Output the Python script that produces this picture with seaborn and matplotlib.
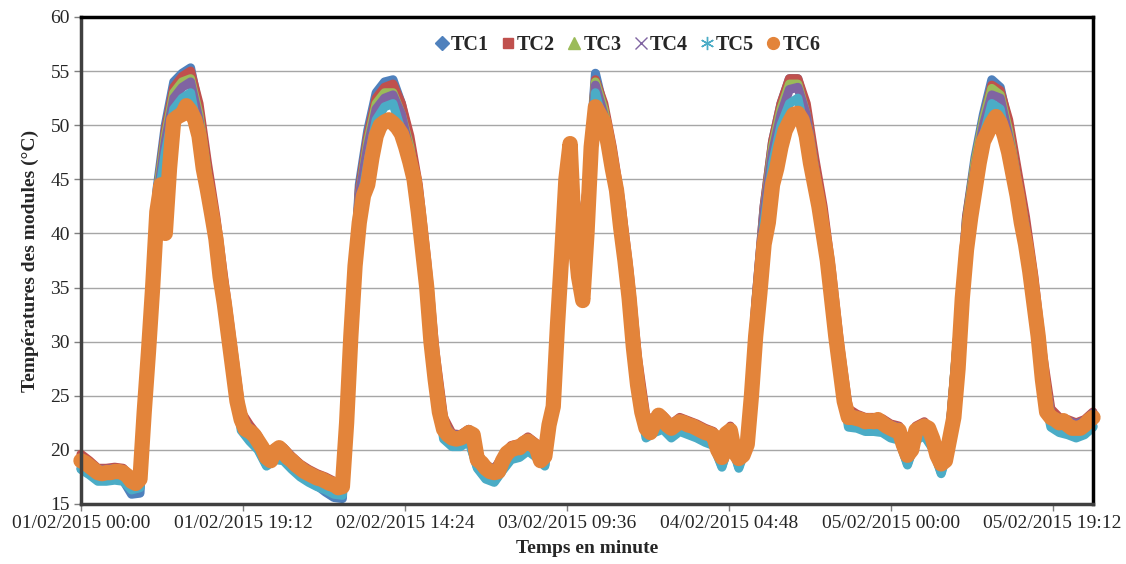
"""
Températures des modules TC1..TC6 du 01/02/2015 au 06/02/2015.
Valeurs relevées sur le graphique d'origine (TC6 toutes les 30 min,
TC1..TC5 toutes les heures).
"""

import pandas as pd
import matplotlib
matplotlib.use("Agg")
import matplotlib.pyplot as plt
import matplotlib.dates as mdates
from matplotlib.lines import Line2D
import seaborn as sns

DEBUT = "2015-02-01 00:00"
FIN = "2015-02-06 00:00"

# TC6, pas de 30 min (de 00:00 le 01/02 à 00:00 le 06/02)
tc6 = [
    # 01/02
    19.0, 18.8, 18.5, 18.2, 17.9, 17.8, 17.9, 17.9, 18.0, 18.0,
    17.9, 17.6, 17.1, 16.9, 17.3, 23.5, 29.0, 35.0, 42.0, 44.5,
    40.0, 46.0, 50.5, 50.8, 51.0, 51.8, 51.3, 50.5, 49.0, 46.0,
    44.0, 41.8, 39.5, 36.0, 33.5, 30.5, 27.5, 24.5, 22.8, 21.9,
    21.7, 21.4, 20.8, 20.2, 19.3, 19.0, 19.9, 20.2,
    # 02/02
    19.8, 19.3, 19.0, 18.6, 18.3, 18.0, 17.8, 17.6, 17.4, 17.3,
    17.1, 16.9, 16.8, 16.5, 16.6, 22.5, 30.5, 37.0, 41.0, 43.5,
    44.5, 47.0, 49.0, 50.0, 50.3, 50.5, 50.2, 49.8, 49.2, 48.0,
    46.6, 45.0, 42.0, 38.5, 35.0, 30.0, 26.5, 23.5, 21.9, 21.4,
    21.1, 21.0, 21.1, 21.3, 21.6, 21.4, 19.1, 18.8,
    # 03/02
    18.3, 18.0, 17.9, 18.0, 19.0, 19.7, 20.0, 20.2, 20.2, 20.6,
    20.8, 20.5, 20.2, 19.0, 19.4, 22.3, 24.0, 31.5, 38.0, 45.0,
    48.3, 40.0, 36.0, 33.8, 40.0, 48.0, 51.7, 51.0, 50.3, 48.3,
    46.0, 44.0, 40.5, 37.5, 34.0, 29.5, 26.0, 23.5, 22.0, 21.6,
    22.5, 23.2, 22.8, 22.3, 22.0, 22.3, 22.6, 22.5,
    # 04/02
    22.3, 22.2, 22.0, 21.8, 21.6, 21.5, 21.3, 20.0, 19.3, 21.5,
    21.8, 19.8, 19.2, 19.5, 20.5, 25.0, 30.5, 34.5, 39.0, 41.0,
    44.5, 46.0, 48.0, 49.5, 50.3, 51.0, 51.1, 50.5, 49.0, 46.5,
    44.5, 42.5, 40.0, 37.5, 34.0, 30.5, 27.5, 24.5, 23.0, 23.0,
    22.9, 22.8, 22.6, 22.7, 22.6, 22.8, 22.5, 22.2,
    # 05/02
    22.0, 21.8, 21.8, 20.5, 19.5, 20.0, 21.8, 22.0, 22.2, 22.0,
    21.0, 19.5, 18.7, 19.0, 21.0, 23.0, 27.5, 34.0, 38.5, 41.5,
    44.0, 46.5, 48.5, 49.3, 50.2, 50.8, 50.2, 49.0, 47.5, 45.5,
    43.5, 41.0, 39.0, 36.5, 33.5, 30.5, 26.5, 23.5, 23.0, 22.8,
    22.5, 22.7, 22.3, 22.0, 22.0, 22.0, 22.3, 22.7, 23.0,
]

# TC1..TC5, pas horaire (une ligne = 12 h)
tc1 = [
    18.3, 17.8, 17.2, 17.2, 17.3, 17.2, 15.9, 16.0, 29.5, 44.0, 50.0, 54.0,
    54.8, 55.3, 51.5, 46.0, 41.0, 35.0, 29.0, 23.0, 21.0, 20.1, 18.6, 19.2,
    19.1, 18.3, 17.6, 17.1, 16.7, 16.1, 15.6, 15.5, 31.0, 44.5, 49.5, 53.0,
    54.0, 54.2, 52.0, 48.5, 44.0, 37.0, 28.5, 22.5, 20.4, 20.4, 20.9, 18.4,
    17.4, 17.1, 18.2, 19.2, 19.4, 20.0, 19.4, 18.6, 24.5, 41.0, 46.0, 38.5,
    44.0, 54.8, 51.5, 47.5, 42.5, 36.0, 28.0, 22.5, 21.7, 22.0, 21.2, 21.8,
    21.5, 21.2, 20.8, 20.5, 18.5, 21.0, 18.4, 21.0, 33.5, 42.5, 48.5, 52.0,
    54.3, 54.3, 51.5, 46.5, 42.0, 36.0, 29.0, 22.8, 22.1, 21.8, 21.8, 21.7,
    21.2, 21.0, 18.7, 21.0, 21.4, 20.2, 17.9, 21.5, 31.0, 41.5, 47.0, 51.0,
    54.2, 53.5, 50.0, 45.5, 41.0, 35.5, 28.5, 22.5, 21.7, 21.5, 21.2, 21.5,
    22.2,
]
tc2 = [
    19.6, 19.0, 18.3, 18.3, 18.4, 18.3, 17.5, 17.6, 29.5, 43.5, 49.5, 53.5,
    54.5, 55.0, 52.0, 46.5, 41.5, 35.5, 29.5, 23.5, 22.3, 21.3, 19.7, 20.2,
    20.2, 19.4, 18.7, 18.2, 17.8, 17.5, 17.1, 16.9, 31.0, 44.0, 49.0, 52.5,
    53.5, 53.8, 52.0, 49.0, 44.5, 37.5, 29.0, 23.0, 21.5, 21.4, 21.9, 19.4,
    18.6, 18.2, 19.4, 20.4, 20.6, 21.2, 20.6, 19.8, 25.0, 41.0, 46.5, 38.5,
    44.0, 54.2, 52.0, 48.0, 43.0, 36.5, 28.5, 23.0, 22.9, 23.2, 22.4, 23.0,
    22.7, 22.4, 22.0, 21.7, 19.7, 22.2, 19.6, 21.0, 33.5, 42.5, 48.5, 52.0,
    54.3, 54.3, 52.0, 47.0, 42.5, 36.5, 29.5, 23.8, 23.3, 23.0, 23.0, 22.9,
    22.4, 22.2, 19.9, 22.2, 22.6, 21.4, 19.1, 21.5, 31.0, 41.5, 46.5, 50.5,
    53.7, 53.2, 50.5, 46.0, 41.5, 36.0, 29.0, 23.8, 23.0, 22.8, 22.5, 22.8,
    23.5,
]
tc3 = [
    19.2, 18.7, 18.1, 18.1, 18.2, 18.1, 17.3, 17.5, 29.5, 43.5, 49.0, 53.0,
    54.0, 54.3, 51.0, 45.5, 40.5, 34.5, 28.5, 23.3, 21.9, 21.0, 19.5, 20.1,
    20.1, 19.2, 18.5, 18.0, 17.6, 17.3, 16.9, 16.8, 31.0, 43.5, 48.5, 52.0,
    53.0, 53.0, 51.0, 48.0, 43.5, 36.5, 28.0, 22.6, 21.3, 21.3, 21.8, 19.3,
    18.5, 18.1, 19.2, 20.2, 20.4, 21.0, 20.4, 19.6, 25.0, 40.5, 46.0, 38.5,
    43.5, 54.0, 51.5, 47.5, 42.0, 35.5, 27.5, 22.5, 22.7, 23.0, 22.2, 22.8,
    22.5, 22.2, 21.8, 21.5, 19.5, 22.0, 19.4, 21.0, 33.0, 42.0, 48.0, 51.5,
    53.8, 53.8, 51.0, 46.0, 41.5, 35.5, 29.0, 23.3, 23.1, 22.8, 22.8, 22.7,
    22.2, 22.0, 19.7, 22.0, 22.4, 21.2, 18.9, 21.5, 31.0, 41.0, 46.5, 50.5,
    53.4, 52.8, 49.5, 45.0, 40.5, 35.0, 28.0, 23.2, 22.8, 22.6, 22.3, 22.6,
    23.3,
]
tc4 = [
    19.3, 18.8, 18.2, 18.2, 18.3, 18.2, 17.4, 17.6, 29.5, 43.0, 48.5, 52.5,
    53.5, 54.0, 50.5, 45.0, 40.5, 34.5, 28.5, 23.2, 22.0, 21.1, 19.6, 20.2,
    20.2, 19.3, 18.6, 18.1, 17.7, 17.4, 17.0, 16.9, 31.0, 43.5, 48.0, 51.5,
    52.5, 52.8, 51.0, 47.5, 43.0, 36.0, 27.5, 22.5, 21.4, 21.4, 21.9, 19.4,
    18.6, 18.2, 19.3, 20.3, 20.5, 21.1, 20.5, 19.7, 25.0, 40.5, 45.5, 38.0,
    43.0, 53.7, 51.0, 47.0, 42.0, 35.5, 27.5, 22.6, 22.8, 23.1, 22.3, 22.9,
    22.6, 22.3, 21.9, 21.6, 19.6, 22.1, 19.5, 21.0, 33.0, 42.0, 47.5, 51.0,
    53.3, 53.5, 51.0, 46.0, 41.5, 35.5, 28.5, 23.4, 23.2, 22.9, 22.9, 22.8,
    22.3, 22.1, 19.8, 22.1, 22.5, 21.3, 19.0, 21.5, 30.5, 40.5, 46.0, 50.0,
    52.8, 52.5, 49.0, 45.0, 40.5, 34.5, 28.0, 23.3, 22.9, 22.7, 22.4, 22.7,
    23.4,
]
tc5 = [
    18.2, 17.7, 17.1, 17.1, 17.2, 17.1, 16.3, 16.5, 29.0, 42.5, 47.5, 51.5,
    52.5, 53.0, 49.0, 44.0, 39.0, 33.0, 27.0, 21.8, 20.8, 20.0, 18.5, 19.1,
    19.0, 18.2, 17.5, 17.0, 16.6, 16.3, 15.9, 15.8, 30.5, 42.0, 46.5, 50.5,
    51.7, 52.0, 49.5, 46.0, 41.5, 34.5, 26.0, 21.0, 20.3, 20.3, 20.8, 18.3,
    17.3, 17.0, 18.1, 19.1, 19.3, 19.9, 19.3, 18.5, 24.0, 39.5, 45.0, 37.0,
    42.0, 53.0, 50.0, 45.5, 40.0, 33.5, 25.5, 21.1, 21.6, 21.9, 21.1, 21.7,
    21.4, 21.1, 20.7, 20.4, 18.4, 20.9, 18.3, 20.5, 32.0, 41.0, 46.5, 50.0,
    52.0, 52.5, 49.0, 44.0, 39.5, 33.5, 27.0, 22.1, 22.0, 21.7, 21.7, 21.6,
    21.1, 20.9, 18.6, 20.9, 21.3, 20.1, 17.8, 20.5, 30.0, 40.0, 45.0, 49.0,
    52.0, 51.5, 47.5, 43.0, 38.5, 33.0, 26.0, 22.1, 21.6, 21.4, 21.1, 21.4,
    22.1,
]

noms = ["TC1", "TC2", "TC3", "TC4", "TC5", "TC6"]
couleurs = ["#4F81BD", "#C0504D", "#9BBB59", "#8064A2", "#4BACC6", "#E3843A"]
marqueurs = ["D", "s", "^", "x", (6, 2, 0), "o"]
tailles_leg = [7, 7.5, 8, 8, 9.5, 8.5]
epaisseurs = [6.5, 6.5, 6.5, 6.5, 6.5, 11]

t_h = pd.date_range(DEBUT, periods=len(tc1), freq="h")
t_30 = pd.date_range(DEBUT, periods=len(tc6), freq="30min")
series = [(t_h, tc1), (t_h, tc2), (t_h, tc3), (t_h, tc4), (t_h, tc5), (t_30, tc6)]

sns.set_theme(style="white")
plt.rcParams["font.family"] = ["Liberation Serif", "DejaVu Serif"]

fig = plt.figure(figsize=(11.26, 5.64), dpi=100)
ax = fig.add_axes([0.0719, 0.1064, 0.8988, 0.8635])

for (t, vals), c, lw in zip(series, couleurs, epaisseurs):
    sns.lineplot(
        x=t, y=vals, ax=ax, color=c, linewidth=lw,
        estimator=None, sort=False, legend=False,
        solid_capstyle="round", solid_joinstyle="round", clip_on=False,
    )

# axes
ax.set_xlim(pd.Timestamp(DEBUT), pd.Timestamp(FIN))
ax.set_xticks(pd.date_range(DEBUT, periods=7, freq="1152min"))
ax.xaxis.set_major_formatter(mdates.DateFormatter("%d/%m/%Y %H:%M"))
ax.set_ylim(15, 60)
ax.set_yticks(range(15, 61, 5))
ax.yaxis.grid(True, color="#A6A6A6", linewidth=1.0)
ax.xaxis.grid(False)
ax.set_axisbelow(True)

for cote in ["top", "right"]:
    ax.spines[cote].set_color("black")
    ax.spines[cote].set_linewidth(2.5)
for cote in ["left", "bottom"]:
    ax.spines[cote].set_color("#404040")
    ax.spines[cote].set_linewidth(2.5)

ax.tick_params(axis="both", labelsize=14, length=5, width=1,
               color="#7F7F7F", direction="out", pad=3)
ax.tick_params(axis="x", bottom=True)
ax.tick_params(axis="y", left=True)

ax.set_xlabel("Temps en minute", fontsize=14, fontweight="bold", labelpad=6)
ax.set_ylabel("Températures des modules (°C)", fontsize=14,
              fontweight="bold", labelpad=8)

# légende
poignees = [
    Line2D([], [], linestyle="none", marker=m, markersize=s, color=c,
           markeredgewidth=1.0)
    for m, s, c in zip(marqueurs, tailles_leg, couleurs)
]
ax.legend(poignees, noms, loc="upper center", bbox_to_anchor=(0.54, 1.0),
          ncol=6, frameon=False, handlelength=0.7, handletextpad=0.1,
          columnspacing=0.6, prop={"weight": "bold", "size": 14.5})

plt.savefig("out.png", dpi=100)
